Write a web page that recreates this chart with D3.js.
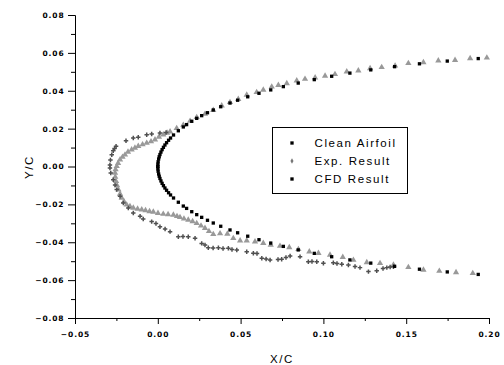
<!DOCTYPE html>
<html>
<head>
<meta charset="utf-8">
<script src="https://cdn.jsdelivr.net/npm/d3@7"></script>
<style>
  body { margin: 0; background: #fff; }
  svg { display: block; }
  .tick text { font-family: "DejaVu Sans", sans-serif; font-weight: bold; font-size: 7.5px; letter-spacing: 0.9px; }
  .title { font-family: "Liberation Sans", Arial, sans-serif; font-size: 11.5px; letter-spacing: 1.6px; fill: #000; }
</style>
</head>
<body>
<svg id="chart" width="504" height="365"></svg>
<script>
// axis ticks
const xTicks = [-0.05, 0.00, 0.05, 0.10, 0.15, 0.20];
const xMinor = [-0.025, 0.025, 0.075, 0.125, 0.175];
const yTicks = [-0.08, -0.06, -0.04, -0.02, 0.00, 0.02, 0.04, 0.06, 0.08];
const yMinor = [-0.07, -0.05, -0.03, -0.01, 0.01, 0.03, 0.05, 0.07];

const legendLabels = ["Clean Airfoil", "Exp. Result", "CFD Result"];

// clean airfoil (x/c, y/c)
const cleanX = [0, 0.00005, 0.0002, 0.0005, 0.00085, 0.0013, 0.0019, 0.0026, 0.0034, 0.0043,
  0.0053, 0.0065, 0.0077, 0.0095, 0.0124, 0.0154, 0.0174, 0.0205, 0.0235, 0.0265, 0.03, 0.0335,
  0.038, 0.0436, 0.0482, 0.0543, 0.0611, 0.0682, 0.0758, 0.0848, 0.0945, 0.105, 0.116, 0.1286,
  0.143, 0.158, 0.1748, 0.1935];
const cleanUpperY = [0, 0.00126, 0.0025, 0.00395, 0.00513, 0.00632, 0.00762, 0.00889, 0.01013, 0.01135,
  0.01256, 0.01386, 0.01504, 0.01663, 0.01887, 0.02089, 0.02212, 0.02387, 0.02542, 0.02685, 0.0284, 0.02984,
  0.03156, 0.03351, 0.035, 0.03681, 0.03866, 0.04044, 0.04218, 0.04405, 0.04587, 0.04765, 0.04932, 0.05102,
  0.05271, 0.05423, 0.05567, 0.05699];
const cleanLowerY = [0, -0.00126, -0.0025, -0.00395, -0.00513, -0.00632, -0.00762, -0.00889, -0.01013, -0.01135,
  -0.01256, -0.01386, -0.01504, -0.01663, -0.01887, -0.02089, -0.02212, -0.02387, -0.02542, -0.02685, -0.0284, -0.02984,
  -0.03156, -0.03351, -0.035, -0.03681, -0.03866, -0.04044, -0.04218, -0.04405, -0.04587, -0.04765, -0.04932, -0.05102,
  -0.05271, -0.05423, -0.05567, -0.05699];

// experimental ice shape
const expPoints = [
  [0.005, 0.018], [0.0013, 0.0177], [-0.0037, 0.0172], [-0.0067, 0.0168], [-0.0118, 0.0154], [-0.0148, 0.015],
  [-0.0192, 0.0136], [-0.0252, 0.0107], [-0.0261, 0.0095], [-0.0269, 0.0083], [-0.0278, 0.0062], [-0.0286, 0.0034],
  [-0.0289, 0.0008], [-0.0289, -0.0008], [-0.0284, -0.0034], [-0.0269, -0.007], [-0.0258, -0.0098], [-0.0248, -0.0122],
  [-0.0228, -0.0157], [-0.0208, -0.0193], [-0.0178, -0.0219], [-0.0148, -0.0246], [-0.0107, -0.0263], [-0.0088, -0.0277],
  [-0.0037, -0.0291], [-0.0011, -0.0301], [0.0013, -0.0318], [0.0044, -0.033], [0.0074, -0.0344], [0.0124, -0.0371],
  [0.0152, -0.037], [0.0184, -0.0371], [0.0225, -0.0379], [0.0265, -0.0406], [0.0285, -0.0414], [0.0305, -0.0429],
  [0.0334, -0.043], [0.0366, -0.0429], [0.0394, -0.0433], [0.0426, -0.0432], [0.0448, -0.0438], [0.0477, -0.0441],
  [0.0537, -0.045], [0.0577, -0.0458], [0.0599, -0.0459], [0.0628, -0.0485], [0.0654, -0.0488], [0.0678, -0.0494],
  [0.0726, -0.0491], [0.0748, -0.049], [0.0774, -0.048], [0.0799, -0.0473], [0.0859, -0.0476], [0.0909, -0.0503],
  [0.0931, -0.0502], [0.096, -0.0503], [0.1, -0.0511], [0.106, -0.0508], [0.1082, -0.0512], [0.1111, -0.0516],
  [0.1151, -0.052], [0.1191, -0.0528], [0.1221, -0.0534], [0.1272, -0.0555], [0.1322, -0.055], [0.136, -0.0539],
  [0.1383, -0.0534], [0.1403, -0.0531], [0.1423, -0.0529]
];

// CFD ice shape, upper TE -> leading edge -> lower TE
const cfdPoints = [
  [0.1987, 0.0574], [0.1886, 0.0571], [0.1795, 0.0562], [0.1694, 0.0559], [0.1604, 0.055], [0.1513, 0.0545],
  [0.1433, 0.0532], [0.1352, 0.0524], [0.1282, 0.0518], [0.1211, 0.0506], [0.1141, 0.0501], [0.107, 0.0487],
  [0.101, 0.0478], [0.095, 0.0469], [0.0889, 0.0462], [0.0839, 0.0453], [0.0779, 0.0439], [0.0728, 0.043],
  [0.0688, 0.0421], [0.0637, 0.0404], [0.0597, 0.0392], [0.0537, 0.0378], [0.0486, 0.0356], [0.0436, 0.0339],
  [0.0386, 0.0321], [0.0335, 0.0298], [0.0285, 0.0277], [0.0235, 0.026], [0.0195, 0.024], [0.0154, 0.0219],
  [0.0114, 0.0202], [0.0074, 0.0184], [0.0056, 0.0177], [0.0033, 0.0168], [0.0007, 0.0156], [-0.0017, 0.0142],
  [-0.0041, 0.0132], [-0.0067, 0.0124], [-0.0092, 0.0116], [-0.0118, 0.0107], [-0.0138, 0.0098], [-0.0158, 0.0089],
  [-0.018, 0.0077], [-0.0198, 0.0062], [-0.0213, 0.005], [-0.0228, 0.0036], [-0.024, 0.0018], [-0.0248, 0.0001],
  [-0.0255, -0.0016], [-0.0258, -0.0034], [-0.0257, -0.0055], [-0.0252, -0.0078], [-0.0246, -0.01], [-0.0238, -0.0122],
  [-0.0228, -0.0145], [-0.0218, -0.0166], [-0.0204, -0.0185], [-0.0188, -0.0202], [-0.0168, -0.0211], [-0.0148, -0.0219],
  [-0.0122, -0.0224], [-0.0097, -0.0228], [-0.0074, -0.0232], [-0.005, -0.0237], [-0.0027, -0.024], [0.0001, -0.0246],
  [0.0033, -0.0251], [0.0062, -0.0253], [0.0094, -0.0256], [0.0116, -0.0263], [0.0134, -0.0268], [0.0158, -0.0276],
  [0.0184, -0.0282], [0.021, -0.029], [0.0235, -0.03], [0.0261, -0.0313], [0.0285, -0.0326], [0.0309, -0.0342],
  [0.0335, -0.0358], [0.0376, -0.0354], [0.042, -0.0356], [0.0456, -0.0379], [0.0497, -0.0392], [0.0537, -0.0392],
  [0.0587, -0.0397], [0.0637, -0.0405], [0.0682, -0.0414], [0.0738, -0.042], [0.0794, -0.0427], [0.0849, -0.0437],
  [0.0915, -0.045], [0.097, -0.0458], [0.104, -0.0467], [0.1117, -0.0479], [0.1181, -0.0494], [0.1262, -0.0506],
  [0.1342, -0.0511], [0.1423, -0.052], [0.1513, -0.0532], [0.1604, -0.0546], [0.17, -0.0552], [0.1801, -0.0559],
  [0.1902, -0.0564]
];

const svg = d3.select("#chart");

const x = d3.scaleLinear().domain([-0.05, 0.20]).range([75, 489]);
const y = d3.scaleLinear().domain([-0.08, 0.08]).range([318, 15]);
const fmt = d3.format(".2f");

// minor ticks first, then major axes over them
svg.append("g")
  .attr("transform", "translate(0,318)")
  .call(d3.axisBottom(x).tickValues(xMinor).tickFormat("").tickSize(3).tickSizeOuter(0));
svg.append("g")
  .attr("transform", "translate(75,0)")
  .call(d3.axisLeft(y).tickValues(yMinor).tickFormat("").tickSize(4).tickSizeOuter(0));

svg.append("g")
  .attr("transform", "translate(0,318)")
  .call(d3.axisBottom(x).tickValues(xTicks).tickFormat(fmt).tickSize(6).tickSizeOuter(0).tickPadding(8));
svg.append("g")
  .attr("transform", "translate(75,0)")
  .call(d3.axisLeft(y).tickValues(yTicks).tickFormat(fmt).tickSize(7).tickSizeOuter(0).tickPadding(3.5));

svg.selectAll(".domain, .tick line").attr("stroke", "#000");
svg.selectAll(".tick text").attr("fill", "#000");

// axis titles
svg.append("text")
  .attr("class", "title")
  .attr("x", 282)
  .attr("y", 363)
  .attr("text-anchor", "middle")
  .text("X/C");
svg.append("text")
  .attr("class", "title")
  .attr("transform", "translate(33,167) rotate(-90)")
  .attr("text-anchor", "middle")
  .text("Y/C");

const tri = d3.symbol().type(d3.symbolTriangle).size(17);
const sq = d3.symbol().type(d3.symbolSquare).size(11);
const cross = d3.symbol().type(d3.symbolCross).size(11);

// CFD triangles
svg.append("g").selectAll("path")
  .data(cfdPoints)
  .enter().append("path")
  .attr("d", tri)
  .attr("transform", d => `translate(${x(d[0])},${y(d[1])})`)
  .attr("fill", "#999");

// experiment crosses
svg.append("g").selectAll("path")
  .data(expPoints)
  .enter().append("path")
  .attr("d", cross)
  .attr("transform", d => `translate(${x(d[0])},${y(d[1])})`)
  .attr("fill", "#505050");

// clean airfoil squares, both surfaces
const clean = cleanX.map((cx, i) => [cx, cleanUpperY[i]])
  .concat(cleanX.map((cx, i) => [cx, cleanLowerY[i]]));
svg.append("g").selectAll("path")
  .data(clean)
  .enter().append("path")
  .attr("d", sq)
  .attr("transform", d => `translate(${x(d[0])},${y(d[1])})`)
  .attr("fill", "#000");

// legend
const legend = svg.append("g").attr("transform", "translate(272.5,127.5)");
legend.append("rect")
  .attr("width", 135)
  .attr("height", 66)
  .attr("fill", "#fff")
  .attr("stroke", "#000");

const legendSymbols = [
  {shape: sq, fill: "#000"},
  {shape: d3.symbol().type(d3.symbolDiamond).size(8), fill: "#777"},
  {shape: sq, fill: "#000"}
];
legendLabels.forEach((label, i) => {
  const row = legend.append("g").attr("transform", `translate(0,${15.5 + i * 18})`);
  row.append("path")
    .attr("d", legendSymbols[i].shape)
    .attr("transform", "translate(19.5,0)")
    .attr("fill", legendSymbols[i].fill);
  row.append("text")
    .attr("class", "title")
    .attr("x", 42)
    .attr("y", 4)
    .text(label);
});
</script>
</body>
</html>
